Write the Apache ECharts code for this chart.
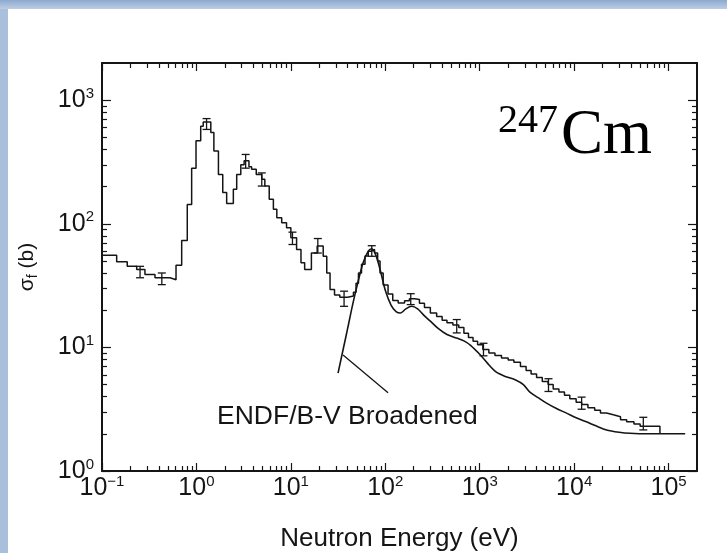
<!DOCTYPE html>
<html>
<head>
<meta charset="utf-8">
<script src="https://cdn.jsdelivr.net/npm/echarts@6/dist/echarts.min.js"></script>
<style>
html, body { margin: 0; padding: 0; background: #ffffff; }
#chart { width: 727px; height: 553px; }
</style>
</head>
<body>
<div id="chart"></div>
<script>
// Axis ranges and tick positions
const xRange = [0.1, 2e5];
const yRange = [1, 2000];
const xMajorTicks = [0.1, 1, 10, 100, 1000, 10000, 100000];
const yMajorTicks = [1, 10, 100, 1000];
const minorMultipliers = [2, 3, 4, 5, 6, 7, 8, 9];

// Measured fission cross section (histogram: lower bin edge in eV, sigma in b)
const expEnergy = [
  0.1, 0.143, 0.185, 0.233, 0.285, 0.364, 0.525, 0.608, 0.698, 0.80,
  0.89, 0.99, 1.11, 1.18, 1.42, 1.53, 1.71, 1.90, 2.09, 2.46,
  2.67, 2.95, 3.2, 3.6, 3.84, 4.3, 4.92, 5.3, 5.9, 6.53,
  7.1, 8.0, 9.0, 10.0, 11.5, 12.8, 14.0, 16.5, 19.0, 22.0,
  24.0, 26.0, 29.0, 33.0, 40.0, 46.0, 49.0, 52.0, 56.0, 61.0,
  66.0, 71.0, 77.0, 83.0, 88.0, 95.0, 107, 120, 137, 160,
  180, 205, 230, 260, 300, 350, 400, 450, 520, 600,
  680, 760, 850, 950, 1080, 1250, 1450, 1700, 2000, 2300,
  2700, 3100, 3500, 4000, 4600, 5300, 6000, 6900, 7900, 9000,
  10500, 12000, 14000, 16500, 19000, 22000, 26000, 31000, 36000, 43000,
  50000, 81000
];
const expSigma = [
  55.7, 49.3, 45.4, 42.7, 38.9, 36.6, 35.3, 46.2, 73.3, 143.6,
  281, 469, 617, 665, 548, 389, 251, 179, 146, 190,
  251, 300, 323, 290, 276, 251, 229, 202, 158, 131,
  112, 102, 93, 77, 62, 48.3, 42.7, 58, 66, 54.6,
  40, 29.4, 26.5, 25.5, 26, 28, 33, 40, 47, 55,
  60, 62, 58, 50, 40, 32, 27, 24, 22.9, 23.8,
  24.8, 24.4, 22.8, 21, 19, 17.8, 16.6, 15.8, 15.2, 14.5,
  13, 12, 11.2, 10.5, 9.6, 9.0, 8.6, 8.2, 7.9, 7.6,
  7.0, 6.5, 6.1, 5.7, 5.3, 5.0, 4.6, 4.35, 4.1, 3.85,
  3.6, 3.45, 3.25, 3.1, 2.95, 2.85, 2.75, 2.6, 2.5, 2.4,
  2.3, 2.0
];

// Error bars on the measurement (energy, lower, upper)
const errEnergy = [0.253, 0.43, 1.28, 3.32, 4.92, 10.4, 19.3, 36.6, 71.9, 186, 571, 1096, 5350, 12000, 54000];
const errLow    = [36.6, 32.2, 580, 282, 202, 68, 58, 21.5, 54.6, 22.2, 13.1, 8.55, 4.4, 3.16, 2.15];
const errHigh   = [45.3, 40.0, 710, 364, 258, 85.6, 76, 28.5, 66.5, 27.2, 16.8, 10.8, 5.58, 3.96, 2.72];

// ENDF/B-V broadened evaluation (smooth curve)
const endfEnergy = [
  31.6, 36, 40, 45, 50, 58, 66, 72, 80, 90,
  100, 115, 130, 145, 165, 190, 220, 260, 300, 360,
  450, 570, 680, 800, 1000, 1200, 1500, 1900, 2400, 2900,
  3400, 4200, 5100, 6500, 8300, 10500, 13500, 17000, 22000, 30000,
  39000, 60000, 150000
];
const endfSigma = [
  6.2, 9.85, 14.3, 22, 31, 48, 60, 62.8, 55, 40,
  29, 22, 19.5, 19, 20.5, 21.5, 20.5, 18, 16.3, 14.3,
  12.7, 11.9, 11.3, 10.4, 8.8, 7.5, 6.3, 5.8, 5.45, 5.0,
  4.35, 3.9, 3.54, 3.2, 2.94, 2.7, 2.5, 2.32, 2.15, 2.06,
  2.02, 2.0, 2.0
];

// Leader line from the curve to its caption
const leaderEnergy = [35.7, 107];
const leaderSigma = [8.7, 4.3];

const ink = '#151515';

function minorTicks(range) {
  const out = [];
  const lo = Math.floor(Math.log10(range[0]));
  const hi = Math.ceil(Math.log10(range[1]));
  for (let d = lo; d <= hi; d++) {
    minorMultipliers.forEach(m => {
      const v = m * Math.pow(10, d);
      if (v > range[0] && v < range[1]) out.push(+v.toPrecision(6));
    });
  }
  return out;
}
const xMinorTicks = minorTicks(xRange);
const yMinorTicks = minorTicks(yRange);

const powLabel = v => {
  const e = Math.round(Math.log10(v));
  return '{b|10}{s|' + String(e).replace('-', '\u2212') + '}';
};
const labelRich = {
  b: { fontFamily: 'Liberation Sans', fontSize: 25, lineHeight: 28, color: ink, verticalAlign: 'middle' },
  s: { fontFamily: 'Liberation Sans', fontSize: 15, lineHeight: 15, color: ink, verticalAlign: 'top' }
};

function axis(kind, position, ticks, tickLen, extra) {
  const range = kind === 'x' ? xRange : yRange;
  return Object.assign({
    type: 'log', logBase: 10, gridIndex: 0, position: position,
    min: range[0], max: range[1],
    splitLine: { show: false },
    axisLine: { show: false },
    axisLabel: { show: false },
    axisTick: { show: true, inside: true, length: tickLen, customValues: ticks,
      lineStyle: { color: ink, width: 1.2 } }
  }, extra || {});
}
const frameLine = { show: true, onZero: false, lineStyle: { color: ink, width: 2 } };

const xAxes = [
  axis('x', 'bottom', xMajorTicks, 8, {
    axisLine: frameLine,
    axisLabel: { show: true, customValues: xMajorTicks, margin: 3, formatter: powLabel, rich: labelRich },
    name: 'Neutron Energy (eV)', nameLocation: 'middle', nameGap: 55,
    nameTextStyle: { fontFamily: 'Liberation Sans', fontSize: 26, color: ink }
  }),
  axis('x', 'bottom', xMinorTicks, 5),
  axis('x', 'top', xMajorTicks, 8, { axisLine: frameLine }),
  axis('x', 'top', xMinorTicks, 5)
];
const yAxes = [
  axis('y', 'left', yMajorTicks, 9, {
    axisLine: frameLine,
    axisLabel: { show: true, customValues: yMajorTicks, margin: 8, formatter: powLabel, rich: labelRich },
    name: '{a|\u03c3}{f|f}{a| (b)}', nameLocation: 'middle', nameGap: 62, nameRotate: 90,
    nameTextStyle: { fontFamily: 'Liberation Sans', fontSize: 21, color: ink, rich: {
      a: { fontFamily: 'Liberation Sans', fontSize: 21, lineHeight: 26, color: ink, verticalAlign: 'middle' },
      f: { fontFamily: 'Liberation Sans', fontSize: 14, lineHeight: 14, color: ink, verticalAlign: 'bottom' }
    } }
  }),
  axis('y', 'left', yMinorTicks, 5),
  axis('y', 'right', yMajorTicks, 9, { axisLine: frameLine }),
  axis('y', 'right', yMinorTicks, 5)
];

const zip = (xs, ys) => xs.map((x, i) => [x, ys[i]]);

const chart = echarts.init(document.getElementById('chart'), null, { renderer: 'canvas' });
chart.setOption({
  animation: false,
  backgroundColor: '#ffffff',
  grid: { left: 102, right: 30, top: 63, bottom: 82, containLabel: false, outerBoundsMode: 'none' },
  xAxis: xAxes,
  yAxis: yAxes,
  graphic: [
    { type: 'rect', left: 0, top: 0, shape: { width: 8, height: 553 }, style: { fill: '#a9c0dd' }, z: 100 },
    { type: 'rect', left: 0, top: 0, shape: { width: 727, height: 9 },
      style: { fill: new echarts.graphic.LinearGradient(0, 0, 0, 1, [
        { offset: 0, color: '#8ea9cf' }, { offset: 1, color: '#bccde4' }]) }, z: 100 },
    { type: 'text', z: 50, style: { x: 498, y: 121, text: '247', font: '40px "Liberation Serif"',
      fill: '#000', verticalAlign: 'middle', align: 'left' } },
    { type: 'text', z: 50, style: { x: 561, y: 136, text: 'Cm', font: '63px "Liberation Serif"',
      fill: '#000', verticalAlign: 'middle', align: 'left' } },
    { type: 'text', z: 50, style: { x: 217, y: 417, text: 'ENDF/B-V Broadened', font: '26.5px "Liberation Sans"',
      fill: ink, verticalAlign: 'middle', align: 'left' } }
  ],
  series: [
    {
      name: 'Measured', type: 'line', step: 'end', symbol: 'none',
      xAxisIndex: 0, yAxisIndex: 0,
      lineStyle: { color: ink, width: 1.5 },
      data: zip(expEnergy, expSigma)
    },
    {
      name: 'ENDF/B-V Broadened', type: 'line', smooth: 0.3, symbol: 'none',
      xAxisIndex: 0, yAxisIndex: 0,
      lineStyle: { color: ink, width: 1.6 },
      data: zip(endfEnergy, endfSigma)
    },
    {
      name: 'leader', type: 'line', symbol: 'none',
      xAxisIndex: 0, yAxisIndex: 0,
      lineStyle: { color: ink, width: 1.3 },
      data: zip(leaderEnergy, leaderSigma)
    },
    {
      name: 'Uncertainty', type: 'custom',
      xAxisIndex: 0, yAxisIndex: 0,
      encode: { x: 0, y: [1, 2] },
      data: errEnergy.map((e, i) => [e, errLow[i], errHigh[i]]),
      renderItem: (params, api) => {
        const lo = api.coord([api.value(0), api.value(1)]);
        const hi = api.coord([api.value(0), api.value(2)]);
        const cap = 4;
        const st = { stroke: ink, lineWidth: 1.3 };
        return { type: 'group', children: [
          { type: 'line', shape: { x1: lo[0], y1: lo[1], x2: hi[0], y2: hi[1] }, style: st },
          { type: 'line', shape: { x1: lo[0] - cap, y1: lo[1], x2: lo[0] + cap, y2: lo[1] }, style: st },
          { type: 'line', shape: { x1: hi[0] - cap, y1: hi[1], x2: hi[0] + cap, y2: hi[1] }, style: st }
        ] };
      }
    }
  ]
});
</script>
</body>
</html>
